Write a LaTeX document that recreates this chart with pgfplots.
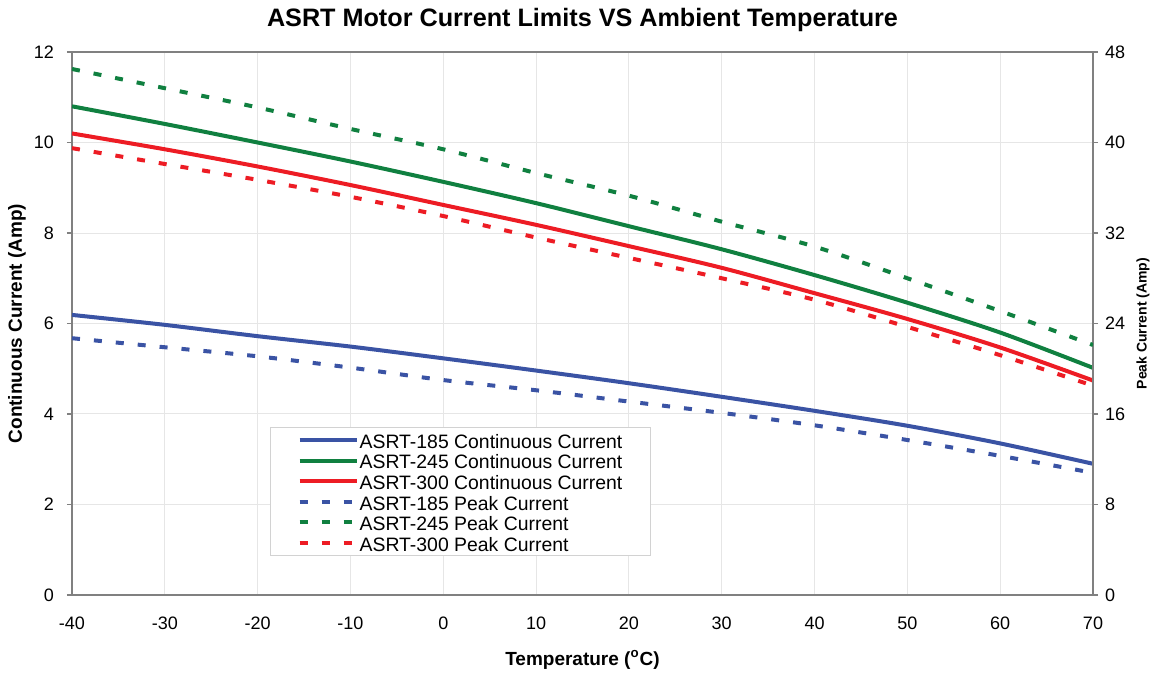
\documentclass[border=0pt]{standalone}
\usepackage{pgfplots}
\usepackage{pgfplotstable}
\pgfplotsset{compat=1.18}
\usepackage{fontspec}
\setmainfont{Liberation Sans}
\definecolor{cblue}{RGB}{58,83,164}
\definecolor{cgreen}{RGB}{16,128,64}
\definecolor{cred}{RGB}{237,28,36}
\definecolor{gridc}{RGB}{230,230,230}
\definecolor{axc}{RGB}{128,128,128}
\definecolor{legc}{RGB}{210,210,210}

\pgfplotstableread{
T    c185  c245  c300
-40  6.19  10.80 10.20
-30  5.97  10.41 9.85
-20  5.72  10.00 9.47
-10  5.49  9.58  9.06
0    5.23  9.13  8.62
10   4.96  8.66  8.18
20   4.68  8.15  7.71
30   4.38  7.64  7.23
40   4.07  7.07  6.67
50   3.74  6.46  6.10
60   3.35  5.80  5.47
70   2.90  5.02  4.74
}\conttable

\pgfplotstableread{
T    p185  p245  p300
-40  22.7  46.5  39.5
-30  21.9  44.8  38.1
-20  21.1  43.1  36.7
-10  20.1  41.2  35.2
0    19.0  39.4  33.5
10   18.1  37.3  31.6
20   17.1  35.3  29.8
30   16.1  33.0  28.0
40   15.0  30.8  26.1
50   13.7  28.0  23.7
60   12.3  25.1  21.2
70   10.8  22.1  18.5
}\peaktable

\begin{document}
\begin{tikzpicture}
\pgfplotsset{
  common/.style={
    scale only axis, width=510.5pt, height=271.5pt,
    xmin=-40, xmax=70,
    /pgf/number format/assume math mode=true,
    ticklabel style={font=\fontsize{9}{11}\selectfont},
    axis line style={axc, line width=0.75pt},
    tick style={axc, line width=0.6pt},
    tick align=outside, major tick length=2.5pt,
  },
  solidl/.style={line width=2pt, smooth},
  dashl/.style={line width=2pt, smooth, dash pattern=on 4pt off 7pt},
}
\begin{axis}[common, name=main,
  ymin=0, ymax=12,
  xtick={-40,-30,...,70}, ytick={0,2,...,12},
  xtick pos=bottom, ytick pos=left,
  xtick style={draw=none},
  grid=major, major grid style={gridc, line width=0.5pt},
  xticklabel style={yshift=-5pt},
  yticklabel style={xshift=-3pt},
  xlabel={Temperature (\textsuperscript{o}C)},
  ylabel={Continuous Current (Amp)},
  xlabel style={font=\bfseries\fontsize{9.5}{11}\selectfont, at={(axis description cs:0.5,0)}, anchor=center, yshift=-32.5pt},
  ylabel style={font=\bfseries\fontsize{9.5}{11}\selectfont, at={(axis description cs:0,0.5)}, anchor=center, yshift=27.5pt},
  title={ASRT Motor Current Limits VS Ambient Temperature},
  title style={font=\bfseries\fontsize{12.6}{14}\selectfont, at={(axis description cs:0.5,1)}, anchor=base, yshift=7pt},
]
\addplot[cblue, solidl] table[x=T, y=c185] {\conttable};
\addplot[cgreen, solidl] table[x=T, y=c245] {\conttable};
\addplot[cred, solidl] table[x=T, y=c300] {\conttable};
\end{axis}
\begin{axis}[common,
  ymin=0, ymax=48, ytick={0,8,...,48},
  hide x axis, axis y line*=right,
  yticklabel style={xshift=0pt},
  ylabel={Peak Current (Amp)},
  ylabel style={font=\bfseries\fontsize{7}{8}\selectfont, at={(axis description cs:1,0.5)}, anchor=center, yshift=-25pt},
  legend cell align=left,
  legend style={at={(0.194,0.072)}, anchor=south west, draw=legc, line width=0.6pt,
    font=\fontsize{9.7}{10}\selectfont, inner xsep=13.5pt, inner ysep=1pt,
    row sep=0pt,
    nodes={inner sep=0.5pt, text height=8.8pt, text depth=0.5pt}},
  legend image code/.code={\draw[#1] (0pt,0pt) -- (28.5pt,0pt);},
]
\addlegendimage{cblue, line width=2pt}
\addlegendentry{ASRT-185 Continuous Current}
\addlegendimage{cgreen, line width=2pt}
\addlegendentry{ASRT-245 Continuous Current}
\addlegendimage{cred, line width=2pt}
\addlegendentry{ASRT-300 Continuous Current}
\addplot[cblue, dashl] table[x=T, y=p185] {\peaktable};
\addlegendentry{ASRT-185 Peak Current}
\addplot[cgreen, dashl] table[x=T, y=p245] {\peaktable};
\addlegendentry{ASRT-245 Peak Current}
\addplot[cred, dashl] table[x=T, y=p300] {\peaktable};
\addlegendentry{ASRT-300 Peak Current}
\end{axis}
\path ([shift={(-36pt,-39.5pt)}]main.south west) rectangle ([shift={(34.5pt,26pt)}]main.north east);
\end{tikzpicture}
\end{document}
